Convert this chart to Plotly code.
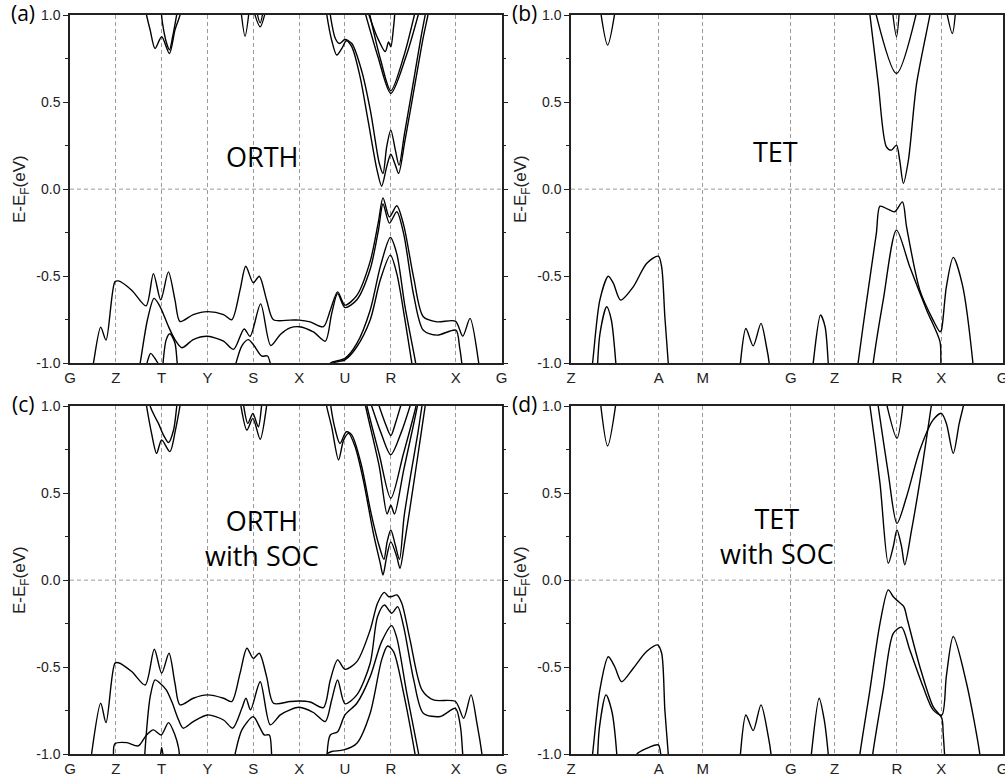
import plotly.graph_objects as go

# ---------------- tick definitions ----------------
orth_ticks = [0, 1, 2, 3, 4, 5, 6, 7, 8.42, 9.42]
orth_labels = ["G", "Z", "T", "Y", "S", "X", "U", "R", "X", "G"]
tet_ticks = [0, 1.915, 2.88, 4.80, 5.76, 7.12, 8.085, 9.43]
tet_labels = ["Z", "A", "M", "G", "Z", "R", "X", "G"]
energy_ticks = [-1.0, -0.5, 0.0, 0.5, 1.0]

# ---------------- panel (a) ORTH ----------------
a_v1_k = [0.47, 0.51, 0.67, 0.786, 0.98, 1.055, 1.346, 1.66, 1.82, 1.98, 2.147, 2.29, 2.40, 2.69, 3.0, 3.35, 3.53, 3.71, 3.835, 4.0, 4.13, 4.29, 4.44, 4.80, 5.0, 5.24, 5.53, 5.68, 5.84, 6.0, 6.26, 6.55, 6.73, 6.83, 6.97, 7.13, 7.28, 7.50, 7.71, 8.01, 8.41, 8.57, 8.73, 8.92, 8.95]
a_v1_e = [-1.05, -1.0, -0.792, -0.867, -0.532, -0.527, -0.58, -0.67, -0.485, -0.636, -0.475, -0.636, -0.76, -0.72, -0.703, -0.72, -0.75, -0.58, -0.443, -0.538, -0.5, -0.636, -0.75, -0.752, -0.752, -0.762, -0.79, -0.695, -0.59, -0.666, -0.61, -0.415, -0.187, -0.050, -0.160, -0.095, -0.205, -0.51, -0.733, -0.762, -0.758, -0.844, -0.742, -1.0, -1.06]
a_v2_k = [1.49, 1.53, 1.69, 1.834, 1.965, 2.147, 2.29, 2.44, 2.69, 3.0, 3.35, 3.57, 3.80, 3.93, 4.16, 4.38, 4.59, 4.80, 5.0, 5.31, 5.57, 5.71, 5.84, 6.0, 6.26, 6.55, 6.73, 6.83, 6.97, 7.13, 7.28, 7.50, 7.71, 8.01, 8.42, 8.50, 8.55, 8.57]
a_v2_e = [-1.05, -1.0, -0.75, -0.627, -0.674, -0.788, -0.864, -0.911, -0.864, -0.845, -0.873, -0.92, -0.803, -0.845, -0.659, -0.898, -0.835, -0.797, -0.79, -0.82, -0.873, -0.714, -0.6, -0.68, -0.635, -0.46, -0.236, -0.085, -0.195, -0.13, -0.255, -0.61, -0.81, -0.838, -0.81, -0.905, -1.0, -1.06]
a_v3_k = [5.60, 5.68, 6.0, 6.26, 6.55, 6.77, 6.99, 7.13, 7.31, 7.53, 7.57]
a_v3_e = [-1.06, -1.0, -0.972, -0.886, -0.695, -0.446, -0.278, -0.37, -0.675, -0.98, -1.04]
a_v4_k = [5.70, 5.75, 6.0, 6.26, 6.55, 6.77, 6.99, 7.13, 7.31, 7.46, 7.50]
a_v4_e = [-1.06, -1.0, -0.98, -0.905, -0.752, -0.522, -0.379, -0.484, -0.752, -1.0, -1.06]
a_v5_k = [1.64, 1.70, 1.76, 1.89, 1.965]
a_v5_e = [-1.05, -0.98, -0.943, -0.987, -1.02]
a_v6_k = [2.02, 2.10, 2.18, 2.29, 2.34, 2.37]
a_v6_e = [-1.03, -0.864, -0.83, -0.883, -1.0, -1.05]
a_v7_k = [3.57, 3.62, 3.75, 3.89, 4.0, 4.18, 4.31, 4.37, 4.40]
a_v7_e = [-1.05, -1.0, -0.9, -0.864, -0.892, -0.958, -0.958, -1.0, -1.05]
a_c1_k = [1.64, 1.67, 1.75, 1.856, 2.0, 2.17, 2.29, 2.40, 2.43]
a_c1_e = [1.05, 1.0, 0.913, 0.808, 0.875, 0.779, 0.913, 1.0, 1.05]
a_c2_k = [1.98, 2.02, 2.11, 2.17, 2.24, 2.36]
a_c2_e = [1.05, 0.95, 0.836, 0.80, 0.875, 1.05]
a_c3_k = [3.72, 3.82, 3.92]
a_c3_e = [1.05, 0.878, 1.05]
a_c4_k = [3.98, 4.15, 4.29]
a_c4_e = [1.05, 0.932, 1.05]
a_c5_k = [4.05, 4.15, 4.23]
a_c5_e = [1.05, 0.955, 1.05]
a_c6_k = [5.58, 5.604, 5.71, 5.82, 5.93, 6.03, 6.15, 6.33, 6.50, 6.70, 6.80, 6.91, 7.0, 7.10, 7.17, 7.31, 7.53, 7.71, 7.81, 7.84]
a_c6_e = [1.05, 1.0, 0.855, 0.77, 0.807, 0.852, 0.817, 0.645, 0.40, 0.109, 0.017, 0.128, 0.2, 0.138, 0.09, 0.28, 0.607, 0.874, 1.0, 1.05]
a_c7_k = [5.66, 5.68, 5.79, 5.88, 6.0, 6.15, 6.37, 6.56, 6.75, 6.83, 6.91, 7.0, 7.10, 7.18, 7.30, 7.50, 7.66, 7.75, 7.78]
a_c7_e = [1.05, 1.0, 0.865, 0.836, 0.859, 0.836, 0.674, 0.444, 0.147, 0.09, 0.243, 0.339, 0.224, 0.138, 0.32, 0.626, 0.874, 1.0, 1.05]
a_c8_k = [6.40, 6.72, 7.0, 7.33, 7.65]
a_c8_e = [1.05, 0.76, 0.55, 0.76, 1.05]
a_c9_k = [6.50, 6.78, 7.0, 7.28, 7.56]
a_c9_e = [1.05, 0.74, 0.565, 0.76, 1.05]
a_c10_k = [6.46, 6.70, 6.88, 6.95, 7.0, 7.06, 7.10]
a_c10_e = [1.05, 0.875, 0.79, 0.845, 0.817, 0.93, 1.05]

# ---------------- panel (b) TET ----------------
b_v1_k = [0.43, 0.47, 0.63, 0.815, 0.924, 1.084, 1.36, 1.65, 1.907, 1.98, 2.05, 2.125, 2.14]
b_v1_e = [-1.07, -1.0, -0.637, -0.5, -0.54, -0.637, -0.561, -0.427, -0.385, -0.446, -0.733, -1.0, -1.07]
b_v2_k = [0.57, 0.633, 0.78, 0.88, 0.98, 1.0]
b_v2_e = [-1.07, -0.829, -0.675, -0.75, -1.0, -1.07]
b_v3_k = [3.68, 3.70, 3.82, 3.98, 4.15, 4.27, 4.33, 4.35]
b_v3_e = [-1.07, -1.0, -0.80, -0.90, -0.771, -0.905, -1.0, -1.07]
b_v4_k = [5.26, 5.29, 5.45, 5.55, 5.62, 5.64]
b_v4_e = [-1.07, -1.0, -0.723, -0.79, -1.0, -1.07]
b_v5_k = [6.24, 6.27, 6.46, 6.67, 6.75, 6.92, 7.07, 7.24, 7.33, 7.62, 7.91, 8.06, 8.09, 8.20, 8.35, 8.55, 8.78, 8.80]
b_v5_e = [-1.07, -1.0, -0.637, -0.254, -0.098, -0.115, -0.13, -0.073, -0.216, -0.58, -0.752, -0.819, -0.81, -0.56, -0.392, -0.55, -1.0, -1.07]
b_v6_k = [6.57, 6.60, 6.82, 7.11, 7.40, 7.77, 8.06, 8.08, 8.10]
b_v6_e = [-1.07, -1.0, -0.637, -0.235, -0.446, -0.695, -0.876, -1.0, -1.07]
b_c1_k = [0.63, 0.80, 0.98]
b_c1_e = [1.05, 0.827, 1.05]
b_c2_k = [8.18, 8.33, 8.41]
b_c2_e = [1.05, 0.894, 1.05]
b_c3_k = [6.50, 6.53, 6.71, 6.89, 7.0, 7.11, 7.18, 7.26, 7.37, 7.55, 7.84, 7.87]
b_c3_e = [1.05, 1.0, 0.607, 0.243, 0.224, 0.253, 0.166, 0.033, 0.166, 0.607, 1.0, 1.05]
b_c4_k = [6.62, 7.11, 7.58]
b_c4_e = [1.05, 0.664, 1.05]
b_c5_k = [7.01, 7.11, 7.18]
b_c5_e = [1.05, 0.875, 1.05]

# ---------------- panel (c) ORTH with SOC ----------------
c_v1_k = [0.45, 0.47, 0.67, 0.786, 0.98, 1.055, 1.346, 1.64, 1.84, 2.0, 2.16, 2.29, 2.40, 2.69, 3.0, 3.35, 3.53, 3.71, 3.86, 4.0, 4.13, 4.29, 4.44, 4.80, 5.0, 5.24, 5.53, 5.68, 5.84, 6.0, 6.26, 6.55, 6.71, 6.86, 6.95, 7.02, 7.13, 7.24, 7.42, 7.68, 7.93, 8.41, 8.59, 8.75, 8.88, 8.99, 9.01]
c_v1_e = [-1.05, -1.0, -0.707, -0.818, -0.477, -0.474, -0.525, -0.602, -0.397, -0.535, -0.42, -0.592, -0.716, -0.678, -0.659, -0.678, -0.697, -0.535, -0.391, -0.449, -0.42, -0.554, -0.707, -0.697, -0.694, -0.70, -0.732, -0.573, -0.458, -0.512, -0.468, -0.286, -0.133, -0.07, -0.094, -0.094, -0.085, -0.133, -0.343, -0.63, -0.688, -0.697, -0.793, -0.659, -0.822, -1.0, -1.05]
c_v2_k = [1.62, 1.66, 1.75, 1.856, 1.965, 2.10, 2.22, 2.37, 2.47, 2.69, 3.0, 3.35, 3.55, 3.75, 3.84, 3.94, 4.15, 4.37, 4.59, 4.80, 5.0, 5.31, 5.57, 5.71, 5.84, 6.0, 6.26, 6.55, 6.71, 6.86, 7.02, 7.15, 7.28, 7.50, 7.71, 8.08, 8.41, 8.52, 8.57, 8.59]
c_v2_e = [-1.05, -0.898, -0.669, -0.573, -0.592, -0.63, -0.697, -0.803, -0.85, -0.812, -0.774, -0.803, -0.85, -0.736, -0.678, -0.745, -0.583, -0.831, -0.774, -0.745, -0.73, -0.76, -0.812, -0.688, -0.573, -0.71, -0.659, -0.477, -0.21, -0.143, -0.19, -0.152, -0.267, -0.573, -0.764, -0.783, -0.736, -0.841, -1.0, -1.05]
c_v3_k = [0.96, 0.98, 1.24, 1.49, 1.67, 1.82, 1.99, 2.15, 2.29, 2.37, 2.40]
c_v3_e = [-1.05, -0.94, -0.933, -0.952, -0.889, -0.86, -0.889, -0.818, -0.889, -0.965, -1.05]
c_v4_k = [1.97, 2.0, 2.04]
c_v4_e = [-1.02, -0.96, -1.02]
c_v5_k = [3.56, 3.60, 3.75, 4.0, 4.15, 4.24, 4.35, 4.40, 4.42]
c_v5_e = [-1.05, -1.0, -0.86, -0.784, -0.85, -0.889, -0.889, -1.0, -1.05]
c_v6_k = [5.60, 5.68, 5.84, 6.0, 6.26, 6.55, 6.80, 7.02, 7.13, 7.35, 7.61, 7.64]
c_v6_e = [-1.05, -0.889, -0.87, -0.774, -0.707, -0.554, -0.353, -0.261, -0.33, -0.65, -1.0, -1.05]
c_v7_k = [5.58, 5.60, 5.71, 5.97, 6.26, 6.55, 6.80, 6.93, 7.06, 7.28, 7.53, 7.56]
c_v7_e = [-1.05, -1.0, -0.984, -0.975, -0.936, -0.764, -0.458, -0.378, -0.41, -0.65, -1.0, -1.05]
c_c1_k = [1.64, 1.67, 1.78, 1.89, 2.0, 2.18, 2.30, 2.40, 2.43]
c_c1_e = [1.05, 1.0, 0.843, 0.728, 0.805, 0.738, 0.86, 1.0, 1.05]
c_c2_k = [1.73, 1.75, 1.85, 1.93, 2.04, 2.15, 2.26, 2.33, 2.35]
c_c2_e = [1.05, 1.0, 0.94, 0.9, 0.833, 0.79, 0.862, 1.0, 1.05]
c_c3_k = [3.71, 3.73, 3.86, 3.99, 4.15, 4.29, 4.31]
c_c3_e = [1.05, 1.0, 0.862, 0.929, 0.809, 1.0, 1.05]
c_c4_k = [3.77, 3.79, 3.88, 3.99, 4.11, 4.18, 4.20]
c_c4_e = [1.05, 1.0, 0.90, 0.957, 0.88, 1.0, 1.05]
c_c5_k = [5.58, 5.60, 5.71, 5.86, 5.97, 6.08, 6.22, 6.40, 6.62, 6.77, 6.83, 6.91, 7.0, 7.13, 7.20, 7.31, 7.50, 7.64, 7.75, 7.78]
c_c5_e = [1.05, 1.0, 0.88, 0.69, 0.804, 0.843, 0.767, 0.575, 0.269, 0.097, 0.03, 0.135, 0.22, 0.135, 0.068, 0.23, 0.556, 0.804, 1.0, 1.05]
c_c6_k = [5.67, 5.69, 5.79, 5.89, 6.03, 6.15, 6.35, 6.57, 6.75, 6.85, 6.92, 7.0, 7.10, 7.19, 7.29, 7.44, 7.59, 7.68, 7.71]
c_c6_e = [1.05, 1.0, 0.862, 0.785, 0.852, 0.833, 0.67, 0.384, 0.193, 0.12, 0.22, 0.288, 0.2, 0.12, 0.365, 0.613, 0.843, 1.0, 1.05]
c_c7_k = [6.42, 6.45, 6.75, 6.92, 7.0, 7.08, 7.28, 7.58, 7.61]
c_c7_e = [1.05, 1.0, 0.65, 0.38, 0.43, 0.38, 0.63, 1.0, 1.05]
c_c8_k = [6.45, 6.48, 6.75, 7.0, 7.27, 7.55, 7.58]
c_c8_e = [1.05, 1.0, 0.72, 0.47, 0.72, 1.0, 1.05]
c_c9_k = [6.52, 6.78, 7.0, 7.23, 7.48]
c_c9_e = [1.05, 0.85, 0.72, 0.85, 1.05]
c_c10_k = [6.68, 6.88, 7.0, 7.10, 7.27]
c_c10_e = [1.05, 0.90, 0.83, 0.90, 1.05]

# ---------------- panel (d) TET with SOC ----------------
d_v1_k = [0.43, 0.47, 0.63, 0.815, 0.96, 1.106, 1.36, 1.65, 1.89, 1.98, 2.05, 2.125, 2.14]
d_v1_e = [-1.07, -1.0, -0.63, -0.44, -0.50, -0.583, -0.506, -0.41, -0.372, -0.42, -0.745, -1.0, -1.07]
d_v2_k = [0.575, 0.62, 0.764, 0.89, 1.0, 1.01]
d_v2_e = [-1.07, -0.85, -0.659, -0.75, -1.0, -1.07]
d_v3_k = [1.40, 1.434, 1.65, 1.907, 1.96, 1.98]
d_v3_e = [-1.05, -1.0, -0.966, -0.946, -1.0, -1.05]
d_v4_k = [3.68, 3.70, 3.82, 3.98, 4.15, 4.31, 4.37, 4.39]
d_v4_e = [-1.07, -1.0, -0.774, -0.864, -0.716, -0.898, -1.0, -1.07]
d_v5_k = [5.22, 5.25, 5.42, 5.53, 5.62, 5.64]
d_v5_e = [-1.07, -1.0, -0.678, -0.80, -1.0, -1.07]
d_v6_k = [6.28, 6.31, 6.53, 6.75, 6.93, 7.04, 7.15, 7.27, 7.35, 7.62, 7.91, 8.10, 8.13, 8.16, 8.18]
d_v6_e = [-1.07, -1.0, -0.63, -0.248, -0.056, -0.095, -0.123, -0.152, -0.229, -0.497, -0.726, -0.793, -0.88, -1.0, -1.07]
d_v7_k = [6.56, 6.59, 6.82, 7.04, 7.22, 7.40, 7.69, 7.91, 8.10, 8.20, 8.35, 8.64, 8.93, 8.95]
d_v7_e = [-1.07, -1.0, -0.63, -0.306, -0.27, -0.40, -0.611, -0.745, -0.775, -0.55, -0.324, -0.592, -1.0, -1.07]
d_c1_k = [0.63, 0.80, 1.0]
d_c1_e = [1.05, 0.77, 1.05]
d_c2_k = [6.50, 6.53, 6.75, 6.93, 7.04, 7.12, 7.22, 7.29, 7.44, 7.66, 7.87, 7.90]
d_c2_e = [1.05, 1.0, 0.556, 0.097, 0.193, 0.288, 0.193, 0.088, 0.288, 0.632, 1.0, 1.05]
d_c3_k = [6.68, 6.71, 6.93, 7.12, 7.33, 7.62, 7.91, 8.09, 8.20, 8.35, 8.48, 8.57, 8.60]
d_c3_e = [1.05, 1.0, 0.613, 0.326, 0.479, 0.747, 0.92, 0.958, 0.9, 0.728, 0.9, 1.0, 1.05]
d_c4_k = [6.86, 7.12, 7.27]
d_c4_e = [1.05, 0.815, 1.05]

panel_a = [(a_v1_k, a_v1_e), (a_v2_k, a_v2_e), (a_v3_k, a_v3_e), (a_v4_k, a_v4_e), (a_v5_k, a_v5_e),
           (a_v6_k, a_v6_e), (a_v7_k, a_v7_e), (a_c1_k, a_c1_e), (a_c2_k, a_c2_e), (a_c3_k, a_c3_e),
           (a_c4_k, a_c4_e), (a_c5_k, a_c5_e), (a_c6_k, a_c6_e), (a_c7_k, a_c7_e), (a_c8_k, a_c8_e),
           (a_c9_k, a_c9_e), (a_c10_k, a_c10_e)]
panel_b = [(b_v1_k, b_v1_e), (b_v2_k, b_v2_e), (b_v3_k, b_v3_e), (b_v4_k, b_v4_e), (b_v5_k, b_v5_e),
           (b_v6_k, b_v6_e), (b_c1_k, b_c1_e), (b_c2_k, b_c2_e), (b_c3_k, b_c3_e), (b_c4_k, b_c4_e),
           (b_c5_k, b_c5_e)]
panel_c = [(c_v1_k, c_v1_e), (c_v2_k, c_v2_e), (c_v3_k, c_v3_e), (c_v4_k, c_v4_e), (c_v5_k, c_v5_e),
           (c_v6_k, c_v6_e), (c_v7_k, c_v7_e), (c_c1_k, c_c1_e), (c_c2_k, c_c2_e), (c_c3_k, c_c3_e),
           (c_c4_k, c_c4_e), (c_c5_k, c_c5_e), (c_c6_k, c_c6_e), (c_c7_k, c_c7_e), (c_c8_k, c_c8_e),
           (c_c9_k, c_c9_e), (c_c10_k, c_c10_e)]
panel_d = [(d_v1_k, d_v1_e), (d_v2_k, d_v2_e), (d_v3_k, d_v3_e), (d_v4_k, d_v4_e), (d_v5_k, d_v5_e),
           (d_v6_k, d_v6_e), (d_v7_k, d_v7_e), (d_c1_k, d_c1_e), (d_c2_k, d_c2_e), (d_c3_k, d_c3_e),
           (d_c4_k, d_c4_e)]

W, H = 1005, 782

def fx(px):
    return px / W

def fy(py):
    return 1 - py / H

panels = [
    # (bands, ticks, labels, xdomain px, ydomain px, letter, text, text pos px)
    (panel_a, orth_ticks, orth_labels, (70, 501.7), (15, 363.3), "(a)", "ORTH", (262, 156)),
    (panel_b, tet_ticks, tet_labels, (571, 1002.7), (15, 363.3), "(b)", "TET", (775, 151)),
    (panel_c, orth_ticks, orth_labels, (70, 501.7), (406, 754.3), "(c)", "ORTH<br>with SOC", (262, 538)),
    (panel_d, tet_ticks, tet_labels, (571, 1002.7), (406, 754.3), "(d)", "TET<br>with SOC", (777, 536)),
]

fig = go.Figure()
layout = dict(
    width=W, height=H, margin=dict(l=0, r=0, t=0, b=0),
    paper_bgcolor="white", plot_bgcolor="white", showlegend=False,
    font=dict(family="Liberation Sans, Arial, sans-serif", color="#222"),
)
annotations = []
shapes = []

for i, (bands, ticks, labels, xd, yd, letter, text, tpos) in enumerate(panels):
    n = "" if i == 0 else str(i + 1)
    xa, ya = "x" + n, "y" + n
    for ks, es in bands:
        fig.add_trace(go.Scatter(x=ks, y=es, mode="lines", xaxis=xa, yaxis=ya,
                                 line=dict(color="black", width=1.4, shape="spline", smoothing=0.8),
                                 hoverinfo="skip"))
    layout["xaxis" + n] = dict(
        domain=[fx(xd[0]), fx(xd[1])], anchor=ya, range=[ticks[0], ticks[-1]],
        tickvals=ticks, ticktext=labels, ticks="", showgrid=True, griddash="4px,3px",
        gridcolor="#9a9a9a", gridwidth=1, zeroline=False, showline=True, linecolor="#222",
        linewidth=1.5, mirror=True, tickfont=dict(size=15, color="#222"), automargin=False,
        ticklabeloverflow="allow",
    )
    layout["yaxis" + n] = dict(
        domain=[fy(yd[1]), fy(yd[0])], anchor=xa, range=[-1, 1],
        tickvals=energy_ticks, ticktext=[f"{v:.1f}" for v in energy_ticks],
        ticks="outside", ticklen=5, tickwidth=1.2, tickcolor="#222",
        minor=dict(tickvals=[-0.75, -0.25, 0.25, 0.75], ticks="outside", ticklen=3, tickcolor="#222"),
        showgrid=False, zeroline=False, showline=True, linecolor="#222", linewidth=1.5, mirror="ticks",
        tickfont=dict(size=14, color="#222"), automargin=False, ticklabeloverflow="allow",
        title=dict(text="E-E<sub>F</sub>(eV)", font=dict(size=17, color="#222"), standoff=6),
    )
    shapes.append(dict(type="line", xref=xa + " domain", yref=ya, x0=0, x1=1, y0=0, y1=0,
                       line=dict(color="#9a9a9a", width=1, dash="4px,3px"), layer="below"))
    annotations.append(dict(text=letter, x=fx(xd[0] - 47), y=fy(yd[0] - 2), xref="paper", yref="paper",
                            showarrow=False, xanchor="center", yanchor="middle",
                            font=dict(family="Open Sans, sans-serif", size=21, color="black")))
    annotations.append(dict(text=text, x=fx(tpos[0]), y=fy(tpos[1]), xref="paper", yref="paper",
                            showarrow=False, xanchor="center", yanchor="middle",
                            font=dict(family="Open Sans, sans-serif", size=27, color="black")))

layout["annotations"] = annotations
layout["shapes"] = shapes
fig.update_layout(**layout)
fig.write_html("out.html")
